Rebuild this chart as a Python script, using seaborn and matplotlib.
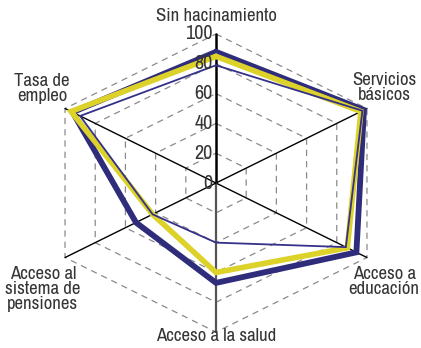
import numpy as np
import pandas as pd
import matplotlib
matplotlib.use("Agg")
import matplotlib.pyplot as plt
from matplotlib import font_manager
import seaborn as sns

# datos (0-100)
categorias = ["Sin hacinamiento", "Servicios\nbásicos", "Acceso a\neducación",
              "Acceso a la salud", "Acceso al\nsistema de\npensiones", "Tasa de\nempleo"]
serie_a = [88, 98, 93, 67, 53, 95]   # azul grueso
serie_b = [85, 96, 87, 60, 42, 96]   # amarillo
serie_c = [79, 97, 86, 40, 42, 90]   # azul fino
ticks = [0, 20, 40, 60, 80, 100]

sns.set_style("white")
plt.rcParams['font.family'] = ['DejaVu Sans']

# buscar una fuente condensada instalada
fuente = None
for f in font_manager.fontManager.ttflist:
    nm = f.name.lower()
    if f.style == "normal" and f.weight in (400, "normal", "regular") and \
            ("narrow" in nm or "condensed" in nm or f.stretch in ("condensed", "semi-condensed")):
        fuente = f.fname
        if "narrow" in nm:
            break
if fuente:
    fp = font_manager.FontProperties(fname=fuente)
else:
    fp = font_manager.FontProperties(family="Liberation Sans")

# angulos de los ejes (arriba y en sentido horario)
ang = np.deg2rad([90, 30, -30, -90, -150, 150])
ux, uy = np.cos(ang), np.sin(ang)

filas = []
for nombre, vals in [("a", serie_a), ("b", serie_b), ("c", serie_c)]:
    v = np.array(vals + vals[:1], dtype=float)
    xs = v * np.append(ux, ux[0])
    ys = v * np.append(uy, uy[0])
    for x, y in zip(xs, ys):
        filas.append({"serie": nombre, "x": x, "y": y})
df = pd.DataFrame(filas)

fig = plt.figure(figsize=(4.21, 3.48), dpi=100)
ax = fig.add_axes([0, 0, 1, 1])

# anillos de la grilla (punteados)
for t in ticks[1:]:
    ax.plot(np.append(ux, ux[0]) * t, np.append(uy, uy[0]) * t,
            color="#8a8a8a", lw=0.9, dashes=(5, 4), zorder=1)

# ejes radiales
for k in range(6):
    if k == 0:
        c, w = "black", 1.8
    elif k == 3:
        c, w = "#555555", 1.6
    else:
        c, w = "black", 1.0
    ax.plot([0, 100 * ux[k]], [0, 100 * uy[k]], color=c, lw=w, zorder=2)

sns.lineplot(data=df, x="x", y="y", hue="serie", size="serie", sort=False,
             estimator=None, units="serie",
             palette={"a": "#2f2c7c", "b": "#dcd22a", "c": "#34318a"},
             sizes={"a": 4.2, "b": 4.0, "c": 1.3},
             legend=False, ax=ax, zorder=3)
for ln in ax.lines[-3:]:
    ln.set_solid_joinstyle("miter")

col_texto = "#353535"

# etiquetas de valores
for t in ticks:
    ax.text(-2.0, t, str(t), ha="right", va="center", fontproperties=fp,
            fontsize=14.5, color=col_texto, zorder=4)

# etiquetas de categorias
pos_etiquetas = [(0, 112), (96.4, 63.8), (96.4, -65.8), (0, -102.7),
                 (-99.3, -71.1), (-99.8, 63.1)]
for lab, (x, y) in zip(categorias, pos_etiquetas):
    ax.text(x, y, lab, ha="center", va="center", fontproperties=fp,
            fontsize=13.5, linespacing=0.92, color=col_texto)

ax.set_xlim(-123.9, 117.6)
ax.set_ylim(-110.7, 122.8)
ax.axis("off")

fig.savefig("out.png", dpi=100)
